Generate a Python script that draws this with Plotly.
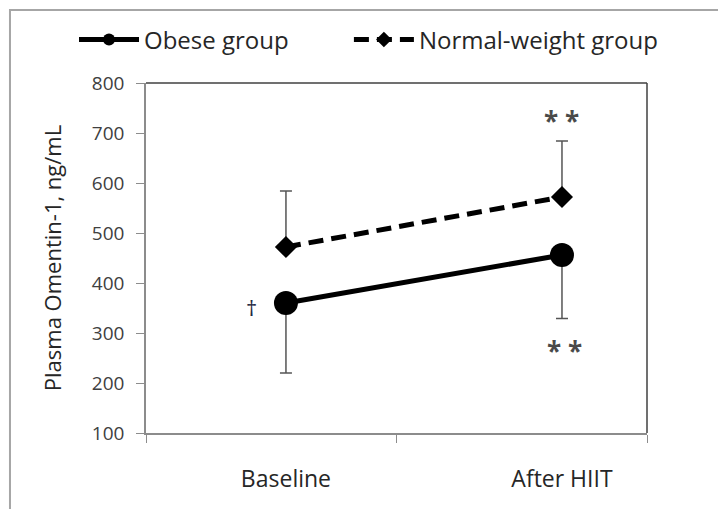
import plotly.graph_objects as go

categories = ["Baseline", "After HIIT"]
obese_mean = [360, 456]
obese_sd = [140, 127]
normal_mean = [472, 572]
normal_sd = [112, 112]
y_ticks = [100, 200, 300, 400, 500, 600, 700, 800]

FONT = "Open Sans"
xpos = list(range(len(categories)))

fig = go.Figure()

fig.add_trace(go.Scatter(
    x=xpos, y=obese_mean, name="Obese group", mode="lines+markers",
    line=dict(color="black", width=5),
    marker=dict(symbol="circle", size=24, color="black"),
    error_y=dict(type="data", symmetric=False, array=[0, 0], arrayminus=obese_sd,
                 color="#555555", thickness=1.5, width=6),
    legend="legend",
))
fig.add_trace(go.Scatter(
    x=xpos, y=normal_mean, name="Normal-weight group", mode="lines+markers",
    line=dict(color="black", width=5, dash="15px,8px"),
    marker=dict(symbol="diamond", size=17, color="black"),
    error_y=dict(type="data", symmetric=False, array=normal_sd, arrayminus=[0, 0],
                 color="#555555", thickness=1.5, width=6),
    legend="legend2",
))

# category label axis
fig.add_trace(go.Scatter(x=[xpos[0]], y=[None], xaxis="x2", showlegend=False, hoverinfo="skip"))

legend_style = dict(orientation="h", y=1.123, xanchor="left", yanchor="middle",
                    font=dict(size=24, color="#262626"), itemwidth=60,
                    itemsizing="constant", bgcolor="rgba(0,0,0,0)")

fig.update_layout(
    width=718, height=509,
    margin=dict(l=146, r=71, t=83, b=76, autoexpand=False),
    paper_bgcolor="white", plot_bgcolor="white",
    font=dict(family=FONT, color="#404040"),
    showlegend=True,
    legend=dict(x=-0.1437, **legend_style),
    legend2=dict(x=0.405, **legend_style),
    xaxis=dict(range=[-0.507, 1.308], showgrid=False, zeroline=False, automargin=False,
               showline=True, linecolor="#8c8c8c", linewidth=1.5, mirror=False,
               ticks="outside", ticklen=8, tickcolor="#8c8c8c",
               tickvals=[-0.507, 0.4005, 1.308], ticktext=["", "", ""]),
    xaxis2=dict(range=[-0.507, 1.308], overlaying="x", side="bottom", showgrid=False,
                zeroline=False, showline=False, ticks="", automargin=False,
                tickvals=xpos, ticktext=categories,
                tickfont=dict(size=23, color="#262626"),
                ticklabelstandoff=30),
    yaxis=dict(range=[100, 800], tickvals=y_ticks, showgrid=False, zeroline=False,
               automargin=False,
               showline=True, linecolor="#8c8c8c", linewidth=1.5, mirror=False,
               ticks="outside", ticklen=8, tickcolor="#8c8c8c",
               tickfont=dict(size=19, color="#404040"), ticklabelstandoff=8,
               title=dict(text="Plasma Omentin-1, ng/mL", font=dict(size=22, color="#262626"),
                          standoff=24)),
)

# darker top and right border of the plot area
fig.add_shape(type="line", xref="paper", yref="paper", x0=0, x1=1, y0=1, y1=1,
              line=dict(color="#404040", width=1.5))
fig.add_shape(type="line", xref="paper", yref="paper", x0=1, x1=1, y0=0, y1=1,
              line=dict(color="#404040", width=1.5))

# significance markers
fig.add_annotation(x=xpos[0], y=obese_mean[0], text="†", showarrow=False,
                   xshift=-34, yshift=-4, font=dict(size=22, color="#1f2a44", family=FONT))
fig.add_annotation(x=xpos[1], y=normal_mean[1] + normal_sd[1], text="<b>* *</b>", showarrow=False,
                   yshift=20, xshift=0, font=dict(size=26, color="#4a4a4a", family=FONT))
fig.add_annotation(x=xpos[1], y=obese_mean[1] - obese_sd[1], text="<b>* *</b>", showarrow=False,
                   yshift=-32, xshift=3, font=dict(size=26, color="#4a4a4a", family=FONT))

# outer frame
fig.add_shape(type="rect", xref="paper", yref="paper",
              x0=-0.2715, x1=1.2, y0=-0.3, y1=1.2086,
              line=dict(color="#a6a6a6", width=2), fillcolor="rgba(0,0,0,0)", layer="below")

fig.write_html("out.html", post_script="document.body.style.margin='0';",
               config={"displayModeBar": False})
